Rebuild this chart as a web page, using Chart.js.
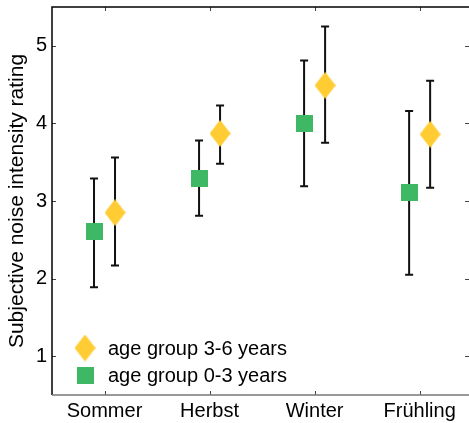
<!DOCTYPE html>
<html>
<head>
<meta charset="utf-8">
<script src="https://cdn.jsdelivr.net/npm/chart.js@4/dist/chart.umd.min.js"></script>
<style>
  html, body { margin: 0; padding: 0; background: #fff; }
  #wrap { width: 469px; height: 423px; }
</style>
</head>
<body>
<div id="wrap"><canvas id="noiseChart"></canvas></div>
<script>
// seasons on the x axis
const seasons = ['Sommer', 'Herbst', 'Winter', 'Frühling'];
const yTicks = [1, 2, 3, 4, 5];

// age group 0-3 years (green squares)
const young_mean = [2.61, 3.29, 4.00, 3.11];
const young_low = [1.89, 2.81, 3.19, 2.05];
const young_high = [3.29, 3.78, 4.81, 4.16];

// age group 3-6 years (yellow diamonds)
const old_mean = [2.85, 3.87, 4.49, 3.86];
const old_low = [2.17, 3.48, 3.75, 3.17];
const old_high = [3.56, 4.23, 5.25, 4.55];

const shift = 0.1; // side offset of the two groups

const FONT = "'Liberation Sans', Arial, Helvetica, sans-serif";

function makeMarker(w, h, color, shape) {
    const c = document.createElement('canvas');
    c.width = w;
    c.height = h;
    const g = c.getContext('2d');
    g.fillStyle = color;
    if (shape === 'diamond') {
        g.beginPath();
        g.moveTo(w / 2, 0);
        g.lineTo(w, h / 2);
        g.lineTo(w / 2, h);
        g.lineTo(0, h / 2);
        g.closePath();
        g.fill();
    } else {
        g.fillRect(0, 0, w, h);
    }
    return c;
}

const diamond = makeMarker(21, 27, '#ffcc33', 'diamond');
const square = makeMarker(17, 17, '#3fb866', 'square');

function points(means, dx) {
    return means.map((v, i) => ({ x: i + 1 + dx, y: v }));
}

const data_noise = {
    datasets: [{
        label: 'age group 3-6 years',
        data: points(old_mean, shift),
        pointStyle: diamond,
        pointRadius: 8,
        pointHoverRadius: 8,
        low: old_low,
        high: old_high
    }, {
        label: 'age group 0-3 years',
        data: points(young_mean, -shift),
        pointStyle: square,
        pointRadius: 8,
        pointHoverRadius: 8,
        low: young_low,
        high: young_high
    }]
};

// error bars under the markers
const errorBars = {
    id: 'errorBars',
    beforeDatasetsDraw(chart) {
        const ctx = chart.ctx;
        const xs = chart.scales.x;
        const ys = chart.scales.y;
        ctx.save();
        ctx.strokeStyle = '#111';
        ctx.lineWidth = 2;
        chart.data.datasets.forEach(ds => {
            ds.data.forEach((p, i) => {
                const x = xs.getPixelForValue(p.x);
                const y1 = ys.getPixelForValue(ds.low[i]);
                const y2 = ys.getPixelForValue(ds.high[i]);
                ctx.beginPath();
                ctx.moveTo(x, y1);
                ctx.lineTo(x, y2);
                ctx.moveTo(x - 4, y1);
                ctx.lineTo(x + 4, y1);
                ctx.moveTo(x - 4, y2);
                ctx.lineTo(x + 4, y2);
                ctx.stroke();
            });
        });
        ctx.restore();
    }
};

// box around the plot with inward tick marks
const frame = {
    id: 'frame',
    afterDraw(chart) {
        const ctx = chart.ctx;
        const a = chart.chartArea;
        const xs = chart.scales.x;
        const ys = chart.scales.y;
        ctx.save();
        ctx.lineWidth = 1;
        ctx.strokeStyle = '#444';
        ctx.beginPath();
        xs.ticks.forEach(t => {
            const x = Math.round(xs.getPixelForValue(t.value)) + 0.5;
            ctx.moveTo(x, a.bottom);
            ctx.lineTo(x, a.bottom - 4);
            ctx.moveTo(x, a.top);
            ctx.lineTo(x, a.top + 4);
        });
        ys.ticks.forEach(t => {
            const y = Math.round(ys.getPixelForValue(t.value)) + 0.5;
            ctx.moveTo(a.left, y);
            ctx.lineTo(a.left + 4, y);
            ctx.moveTo(a.right, y);
            ctx.lineTo(a.right - 4, y);
        });
        ctx.stroke();

        ctx.lineWidth = 1.5;
        ctx.strokeStyle = '#000';
        ctx.beginPath();
        ctx.moveTo(a.left, a.bottom);
        ctx.lineTo(a.left, a.top);
        ctx.lineTo(a.right, a.top);
        ctx.stroke();
        ctx.strokeStyle = '#777';
        ctx.beginPath();
        ctx.moveTo(a.left, a.bottom);
        ctx.lineTo(a.right, a.bottom);
        ctx.stroke();
        ctx.restore();
    }
};

// legend in the lower left corner of the plot
const cornerLegend = {
    id: 'cornerLegend',
    afterDraw(chart) {
        const ctx = chart.ctx;
        const a = chart.chartArea;
        ctx.save();
        ctx.font = '20px ' + FONT;
        ctx.fillStyle = '#000';
        ctx.textBaseline = 'middle';
        chart.data.datasets.forEach((ds, i) => {
            const cx = a.left + 33;
            const cy = a.bottom - 47 + i * 27;
            const img = ds.pointStyle;
            ctx.drawImage(img, cx - img.width / 2, cy - img.height / 2);
            ctx.fillText(ds.label, a.left + 56, cy + 1);
        });
        ctx.restore();
    }
};

function noPadding(scale) {
    scale.paddingTop = 0;
    scale.paddingBottom = 0;
    scale.paddingLeft = 0;
    scale.paddingRight = 0;
}

const config_noise = {
    type: 'scatter',
    data: data_noise,
    options: {
        responsive: true,
        maintainAspectRatio: false,
        animation: false,
        layout: {
            autoPadding: false,
            padding: { top: 7, right: 0, left: 0, bottom: 0 }
        },
        plugins: {
            legend: { display: false },
            tooltip: { enabled: false }
        },
        scales: {
            x: {
                type: 'linear',
                min: 0.5,
                max: 4.47,
                grid: { display: false, drawTicks: false },
                border: { display: false },
                afterBuildTicks: scale => {
                    scale.ticks = seasons.map((s, i) => ({ value: i + 1 }));
                },
                afterFit: scale => { scale.height = 28; noPadding(scale); },
                ticks: {
                    padding: 4,
                    autoSkip: false,
                    maxRotation: 0,
                    color: '#000',
                    font: { family: FONT, size: 20 },
                    callback: v => seasons[Math.round(v) - 1]
                }
            },
            y: {
                min: 0.5,
                max: 5.5,
                grid: { display: false, drawTicks: false },
                border: { display: false },
                afterBuildTicks: scale => {
                    scale.ticks = yTicks.map(v => ({ value: v }));
                },
                afterFit: scale => { scale.width = 52; noPadding(scale); },
                ticks: {
                    padding: 5,
                    color: '#000',
                    font: { family: FONT, size: 20 }
                },
                title: {
                    display: true,
                    text: 'Subjective noise intensity rating',
                    color: '#000',
                    padding: { top: 5, bottom: 0 },
                    font: { family: FONT, size: 21 }
                }
            }
        }
    },
    plugins: [errorBars, frame, cornerLegend]
};

var NoiseChart = new Chart(
    document.getElementById('noiseChart'),
    config_noise
);
</script>
</body>
</html>
